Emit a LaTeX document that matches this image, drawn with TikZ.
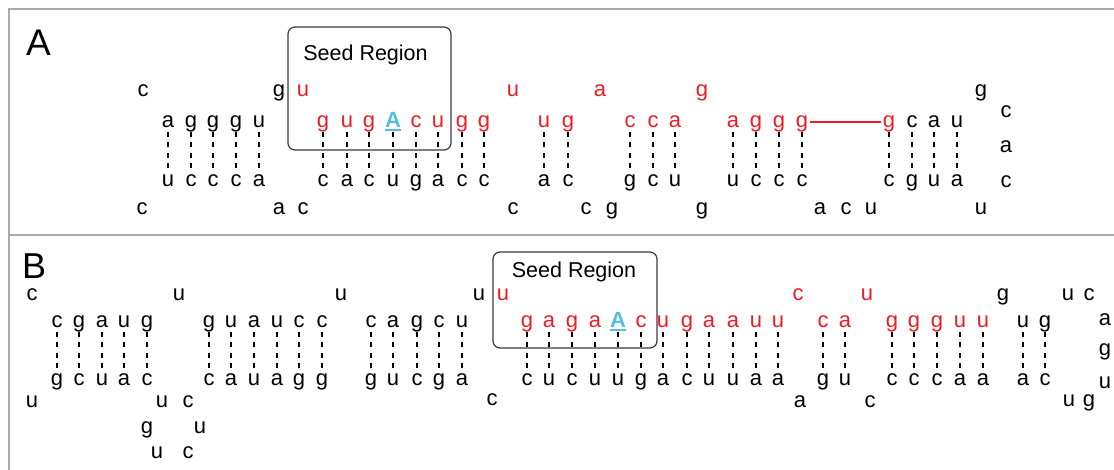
\documentclass[tikz,border=0pt]{standalone}
\usepackage{fontspec}
\setmainfont{Liberation Sans}
\definecolor{nred}{RGB}{237,28,36}
\definecolor{nblue}{RGB}{86,190,220}
\definecolor{framegray}{RGB}{170,170,170}
\definecolor{boxgray}{RGB}{60,60,60}
\begin{document}
\begin{tikzpicture}[x=1bp,y=-1bp,
  nt/.style={inner sep=0pt, outer sep=0pt, anchor=base,
    font=\fontsize{22bp}{26bp}\selectfont},
  nk/.style={text=black},
  nr/.style={text=nred},
  nb/.style={text=nblue, font=\fontsize{22bp}{26bp}\selectfont\bfseries},
  pairdash/.style={black, line width=1.2bp, dash pattern=on 5bp off 5.5bp},
  seedbox/.style={draw=boxgray, line width=1.2bp, rounded corners=7bp,
    inner sep=0pt, outer sep=0pt},
  seedtext/.style={inner sep=0pt, anchor=base,
    font=\fontsize{21.5bp}{26bp}\selectfont},
  panel/.style={inner sep=0pt, anchor=base west,
    font=\fontsize{37bp}{40bp}\selectfont},
  framing/.style={framegray, line width=1.8bp}]
\useasboundingbox (0,0) rectangle (1114,470);

% panel frames
\draw[framing] (9,470) -- (9,9) -- (1114,9);
\draw[framing] (9,235) -- (1114,235);

% ---------------- panel A ----------------
\node[panel] (labA) at (26,56) {A};
\node[seedbox, minimum width=163bp, minimum height=123bp] (boxA) at (369.5,88.5) {};
\node[seedtext] (seedA) at (365.5,61) {Seed Region};

% unpaired bases, upper loop row
\foreach \x/\l/\s [count=\i] in {143/c/nk,279/g/nk,303/u/nr,513/u/nr,600/a/nr,702/g/nr,981/g/nk}
  \node[nt,\s] (aU\i) at (\x,97) {\l};
% paired bases, upper strand
\foreach \x/\l/\s [count=\i] in {168/a/nk,191/g/nk,213/g/nk,236/g/nk,259/u/nk,
    323/g/nr,347/u/nr,369/g/nr,393/A/nb,416/c/nr,438/u/nr,462/g/nr,484/g/nr,
    544/u/nr,568/g/nr,630/c/nr,653/c/nr,675/a/nr,
    733/a/nr,756/g/nr,779/g/nr,802/g/nr,889/g/nr,912/c/nk,934/a/nk,957/u/nk}
  \node[nt,\s] (aT\i) at (\x,128) {\l};
% paired bases, lower strand
\foreach \x/\l [count=\i] in {168/u,191/c,213/c,236/c,259/a,
    323/c,347/a,369/c,393/u,416/g,438/a,462/c,484/c,
    544/a,568/c,630/g,653/c,675/u,
    733/u,756/c,779/c,802/c,889/c,912/g,934/u,957/a}
  \node[nt] (aB\i) at (\x,187) {\l};
% unpaired bases, lower loop row
\foreach \x/\l [count=\i] in {142/c,279/a,303/c,513/c,586/c,612/g,702/g,820/a,846/c,871/u,981/u}
  \node[nt] (aD\i) at (\x,215) {\l};
% terminal loop
\foreach \y/\l [count=\i] in {118/c,153/a,188/c}
  \node[nt] (aL\i) at (1006,\y) {\l};

\foreach \i in {1,...,26}
  \draw[pairdash] ([yshift=-4bp]aT\i.base) -- ([yshift=14.5bp]aB\i.base);
\draw[nblue, line width=2bp] ([yshift=-2.5bp]aT9.base west) -- ([yshift=-2.5bp]aT9.base east);
\draw[nred, line width=1.2bp] ([xshift=2bp,yshift=6bp]aT22.base east) -- ([xshift=-2bp,yshift=6bp]aT23.base west);

% ---------------- panel B ----------------
\node[panel, font=\fontsize{36bp}{40bp}\selectfont] (labB) at (22,279) {B};
\node[seedbox, minimum width=164bp, minimum height=96bp] (boxB) at (575,300) {};
\node[seedtext] (seedB) at (574,278) {Seed Region};

\foreach \x/\l/\s [count=\i] in {32/c/nk,179/u/nk,341/u/nk,479/u/nk,503/u/nr,798/c/nr,867/u/nr,1003/g/nk,1068/u/nk,1089/c/nk}
  \node[nt,\s] (bU\i) at (\x,301) {\l};
\foreach \x/\l/\s [count=\i] in {57/c/nk,79/g/nk,102/a/nk,124/u/nk,147/g/nk,
    209/g/nk,231/u/nk,254/a/nk,277/u/nk,299/c/nk,322/c/nk,
    371/c/nk,393/a/nk,417/g/nk,439/c/nk,462/u/nk,
    527/g/nr,549/a/nr,572/g/nr,595/a/nr,618/A/nb,641/c/nr,663/u/nr,687/g/nr,709/a/nr,733/a/nr,756/u/nr,778/u/nr,
    823/c/nr,845/a/nr,892/g/nr,914/g/nr,937/g/nr,960/u/nr,983/u/nr,1023/u/nk,1045/g/nk}
  \node[nt,\s] (bT\i) at (\x,328) {\l};
\foreach \x/\l [count=\i] in {57/g,79/c,102/u,124/a,147/c,
    209/c,231/a,254/u,277/a,299/g,322/g,
    371/g,393/u,417/c,439/g,462/a,
    527/c,549/u,572/c,595/u,618/u,641/g,663/a,687/c,709/u,733/u,756/a,778/a,
    823/g,845/u,892/c,914/c,937/c,960/a,983/a,1023/a,1045/c}
  \node[nt] (bB\i) at (\x,386) {\l};
\foreach \x/\y/\l [count=\i] in {32/408/u,162/408/u,188/408/c,492/406/c,800/408/a,870/408/c,
    1069/407/u,1089/407/g,147/434/g,200/434/u,157/458/u,188/458/c,
    1105/326/a,1105/356/g,1105/389/u}
  \node[nt] (bD\i) at (\x,\y) {\l};

\foreach \i in {1,...,37}
  \draw[pairdash] ([yshift=-4bp]bT\i.base) -- ([yshift=14.5bp]bB\i.base);
\draw[nblue, line width=2bp] ([yshift=-2.5bp]bT21.base west) -- ([yshift=-2.5bp]bT21.base east);
\end{tikzpicture}
\end{document}
